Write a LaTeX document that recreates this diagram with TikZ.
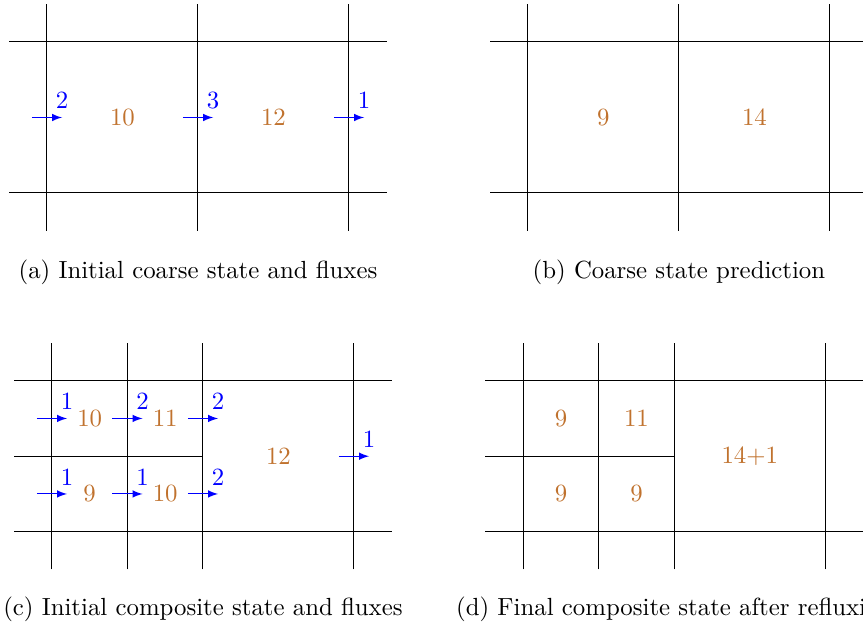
\documentclass[tikz,border=0pt]{standalone}
\usepackage{tikz}
\definecolor{valBrown}{RGB}{192,114,46}
\definecolor{fluxBlue}{RGB}{0,0,255}

\begin{document}
\begin{tikzpicture}[x=2.14cm,y=2.14cm,
    val/.style={text=valBrown},
    flux/.style={fluxBlue,-latex},
    fluxlbl/.style={text=fluxBlue,above}]
  \clip (-0.311,-2.861) rectangle (5.404,1.278);
  % (a) coarse state and fluxes
  \begin{scope}
    \foreach \x in {0,1,2} \draw (\x,-0.25) -- (\x,1.25);
    \foreach \y in {0,1} \draw (-0.25,\y) -- (2.25,\y);
    \node[val] (a1) at (0.5,0.5) {10};
    \node[val] (a2) at (1.5,0.5) {12};
    \foreach \x/\f [count=\i] in {0/2,1/3,2/1}
      \draw[flux] (\x-0.1,0.5) -- (\x+0.1,0.5) node[fluxlbl] (af\i) {\f};
    \node[anchor=base] (capa) at (1,-0.563) {(a) Initial coarse state and fluxes};
  \end{scope}
  % (b) prediction
  \begin{scope}[xshift=3.185*2.14cm]
    \foreach \x in {0,1,2} \draw (\x,-0.25) -- (\x,1.25);
    \foreach \y in {0,1} \draw (-0.25,\y) -- (2.25,\y);
    \node[val] (b1) at (0.5,0.5) {9};
    \node[val] (b2) at (1.5,0.5) {14};
    \node[anchor=base] (capb) at (1,-0.563) {(b) Coarse state prediction};
  \end{scope}
  % (c) composite state and fluxes
  \begin{scope}[xshift=0.033*2.14cm,yshift=-2.243*2.14cm]
    \foreach \x in {0,0.5,1,2} \draw (\x,-0.25) -- (\x,1.25);
    \foreach \y in {0,1} \draw (-0.25,\y) -- (2.25,\y);
    \draw (-0.25,0.5) -- (1,0.5);
    \node[val] (c1) at (0.25,0.75) {10};
    \node[val] (c2) at (0.75,0.75) {11};
    \node[val] (c3) at (0.25,0.25) {9};
    \node[val] (c4) at (0.75,0.25) {10};
    \node[val] (c5) at (1.5,0.5) {12};
    \foreach \x/\y/\f [count=\i] in {0/0.75/1,0.5/0.75/2,1/0.75/2,
        0/0.25/1,0.5/0.25/1,1/0.25/2,2/0.5/1}
      \draw[flux] (\x-0.1,\y) -- (\x+0.1,\y) node[fluxlbl] (cf\i) {\f};
    \node[anchor=base] (capc) at (1,-0.552) {(c) Initial composite state and fluxes};
  \end{scope}
  % (d) after refluxing
  \begin{scope}[xshift=3.154*2.14cm,yshift=-2.243*2.14cm]
    \foreach \x in {0,0.5,1,2} \draw (\x,-0.25) -- (\x,1.25);
    \foreach \y in {0,1} \draw (-0.25,\y) -- (2.25,\y);
    \draw (-0.25,0.5) -- (1,0.5);
    \node[val] (d1) at (0.25,0.75) {9};
    \node[val] (d2) at (0.75,0.75) {11};
    \node[val] (d3) at (0.25,0.25) {9};
    \node[val] (d4) at (0.75,0.25) {9};
    \node[val] (d5) at (1.5,0.5) {14+1};
    \node[anchor=base] (capd) at (1,-0.552) {(d) Final composite state after refluxing};
  \end{scope}
\end{tikzpicture}
\end{document}
